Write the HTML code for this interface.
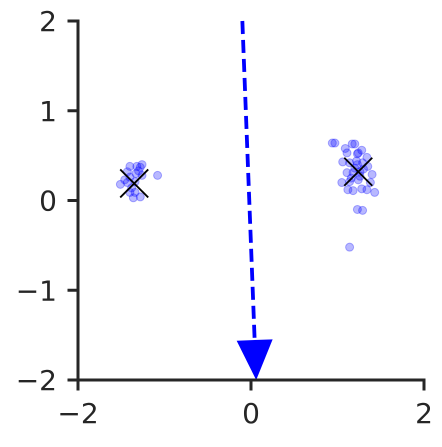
<!DOCTYPE html>
<html><head><meta charset="utf-8"><style>
html,body{margin:0;padding:0;background:#fff}
text{font-family:"DejaVu Sans","Liberation Sans",sans-serif;fill:#262626}
</style></head><body>
<svg id="c" width="442" height="442"></svg>
<script>
const xTicks=[-2,0,2];
const yTicks=[-2,-1,0,1,2];
const rightX=[0.94,0.97,1.17,1.20,1.09,1.11,1.24,1.28,1.23,1.34,1.06,1.14,1.23,1.29,1.35,1.11,1.18,1.26,1.40,1.05,1.14,1.24,1.38,1.12,1.18,1.28,1.34,1.43,1.23,1.29,1.14,1.20,1.26,1.16,1.30,1.22];
const rightY=[0.64,0.64,0.63,0.63,0.58,0.53,0.53,0.56,0.52,0.48,0.43,0.42,0.40,0.42,0.38,0.31,0.31,0.32,0.29,0.20,0.21,0.23,0.20,0.12,0.11,0.13,0.12,0.09,-0.10,-0.11,-0.52,0.36,0.27,0.25,0.35,0.44];
const leftX=[-1.40,-1.32,-1.26,-1.28,-1.43,-1.08,-1.26,-1.46,-1.40,-1.51,-1.43,-1.34,-1.38,-1.40,-1.34,-1.28,-1.36,-1.33,-1.30];
const leftY=[0.38,0.38,0.40,0.37,0.32,0.28,0.28,0.23,0.26,0.18,0.20,0.21,0.14,0.09,0.09,0.04,0.03,0.30,0.33];
const centersX=[1.24,-1.35];
const centersY=[0.32,0.19];
const arrowStart=[-0.1,2.0];
const arrowEnd=[0.06,-2.0];

const NS="http://www.w3.org/2000/svg";
const svg=document.getElementById('c');
const X0=78,X1=424,Y0=380,Y1=21;
const sx=v=>X0+(v+2)/4*(X1-X0);
const sy=v=>Y0-(v+2)/4*(Y0-Y1);
function mk(t,a,p){const e=document.createElementNS(NS,t);for(const k in a)e.setAttribute(k,a[k]);(p||svg).appendChild(e);return e;}

const pts=mk('g',{});


function drawPts(xs,ys,name){
  xs.forEach((v,i)=>{
    const c=mk('circle',{cx:sx(v),cy:sy(ys[i]),r:4,fill:'rgba(0,0,255,0.28)',stroke:'rgba(0,0,255,0.3)','stroke-width':1},pts);
    
    
  });
}
drawPts(rightX,rightY,'right-cluster-point');
drawPts(leftX,leftY,'left-cluster-point');

centersX.forEach((v,i)=>{
  const g=mk('g',{stroke:'#000','stroke-width':1.8});
  
  
  const cx=sx(v),cy=sy(centersY[i]),s=14;
  mk('line',{x1:cx-s,y1:cy-s,x2:cx+s,y2:cy+s},g);
  mk('line',{x1:cx-s,y1:cy+s,x2:cx+s,y2:cy-s},g);
});

const ag=mk('g',{});


const ax1=sx(arrowStart[0]),ay1=sy(arrowStart[1]),ax2=sx(arrowEnd[0]),ay2=sy(arrowEnd[1]);
const dx=ax2-ax1,dy=ay2-ay1,L=Math.hypot(dx,dy),ux=dx/L,uy=dy/L,hl=40,hw=18;
const bx=ax2-ux*hl,by=ay2-uy*hl;
mk('line',{x1:ax1,y1:ay1,x2:bx,y2:by,stroke:'#0000ff','stroke-width':3.8,'stroke-dasharray':'13,6'},ag);
mk('polygon',{points:`${ax2},${ay2} ${bx-uy*hw},${by+ux*hw} ${bx+uy*hw},${by-ux*hw}`,fill:'#0000ff'},ag);

const ax=mk('g',{stroke:'#262626','stroke-width':3,'stroke-linecap':'square'});


mk('line',{x1:X0,y1:Y1,x2:X0,y2:Y0},ax);
mk('line',{x1:X0,y1:Y0,x2:X1,y2:Y0},ax);
xTicks.forEach(v=>{
  mk('line',{x1:sx(v),y1:Y0,x2:sx(v),y2:Y0+9},ax);
  const t=mk('text',{x:sx(v),y:423,'text-anchor':'middle','font-size':28});
  t.textContent=(v<0?'\u2212':'')+Math.abs(v);
  
  
});
yTicks.forEach(v=>{
  mk('line',{x1:X0-9,y1:sy(v),x2:X0,y2:sy(v)},ax);
  const t=mk('text',{x:57,y:sy(v)+10,'text-anchor':'end','font-size':28});
  t.textContent=(v<0?'\u2212':'')+Math.abs(v);
  
  
});
</script>
</body></html>
